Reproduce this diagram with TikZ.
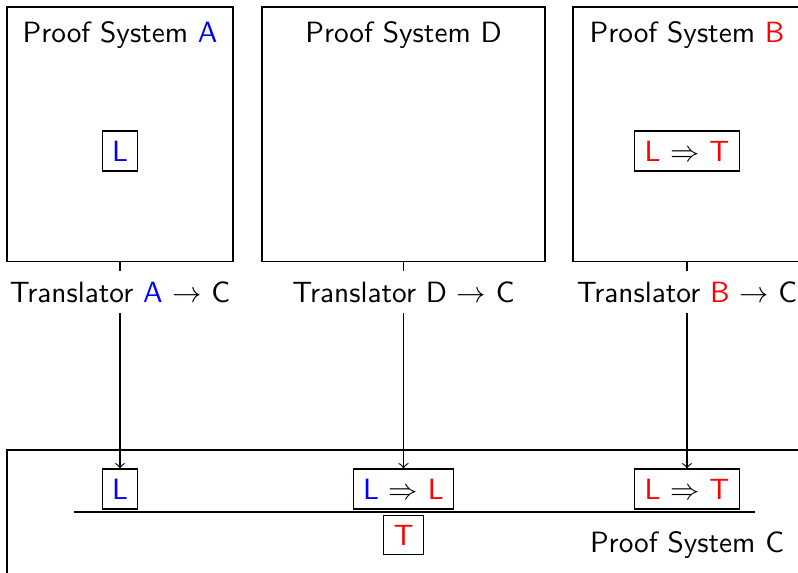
\documentclass[tikz,border=0pt]{standalone}
\usepackage{xcolor}
\usepackage{tikz}

\begin{document}
\begin{tikzpicture}[x=0.012cm, y=-0.012cm, font=\sffamily,
    sistema/.style={draw, minimum height=3.048cm, inner sep=0pt},
    formula/.style={draw}]
    \useasboundingbox (0,0) rectangle (798,572);
    % Sistemas de prueba de arriba
    \node[sistema, minimum width=2.712cm] (A) at (120,134) {};
    \node[sistema, minimum width=3.396cm] (D) at (403.5,134) {};
    \node[sistema, minimum width=2.736cm] (B) at (687,134) {};
    \node (titA) at (120,35) {Proof System \textcolor{blue}{A}};
    \node (titD) at (403.5,35) {Proof System D};
    \node (titB) at (687,35) {Proof System \textcolor{red}{B}};
    \node[formula] (fA) at (120,151) {\textcolor{blue}{L}};
    \node[formula] (fB) at (687,151) {\textcolor{red}{L} $\Rightarrow$ \textcolor{red}{T}};
    % Traductores
    \node (trA) at (120,292) {Translator \textcolor{blue}{A} $\to$ C};
    \node (trD) at (403.5,292) {Translator D $\to$ C};
    \node (trB) at (687,292) {Translator \textcolor{red}{B} $\to$ C};
    % Sistema de prueba de abajo
    \draw (7,450) rectangle (830,620);
    \node at (687,545) (titC) {Proof System C};
    \node[formula] (cL) at (120,489) {\textcolor{blue}{L}};
    \node[formula] (cLL) at (403.5,489) {\textcolor{blue}{L} $\Rightarrow$ \textcolor{red}{L}};
    \node[formula] (cLT) at (687,489) {\textcolor{red}{L} $\Rightarrow$ \textcolor{red}{T}};
    \draw (74,512) -- (755,512);
    \node[formula] (cT) at (403.5,535) {\textcolor{red}{T}};
    % Flechas de traduccion
    \foreach \s/\c in {A/cL, D/cLL, B/cLT} {
        \draw (\s) -- (tr\s);
        \draw[->] (tr\s) -- (\c);
    }
\end{tikzpicture}
\end{document}
